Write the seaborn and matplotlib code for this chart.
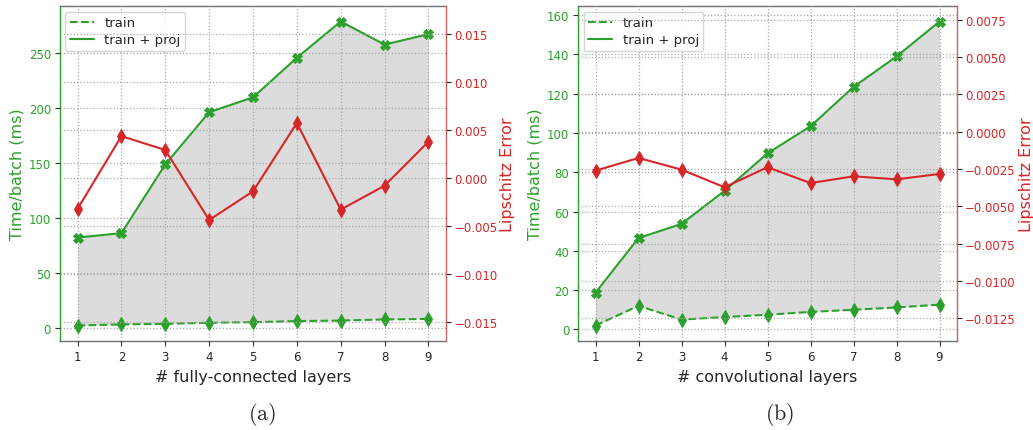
import numpy as np
import pandas as pd
import matplotlib
matplotlib.use("Agg")
import matplotlib.pyplot as plt
from matplotlib.lines import Line2D
import seaborn as sns

# ---------------- data ----------------
layers = [1, 2, 3, 4, 5, 6, 7, 8, 9]

fc_train = [2, 3, 3.5, 4.5, 5, 6, 6.5, 7.5, 8]
fc_train_proj = [82, 86, 148.5, 196, 209.5, 245.5, 278.5, 257.5, 267]
fc_lip_err = [-0.0032, 0.0044, 0.00295, -0.00435, -0.00136, 0.00577, -0.00327, -0.00077, 0.00382]

conv_train = [2, 12, 5, 6.3, 7.5, 8.9, 10, 11.2, 12.6]
conv_train_proj = [18.7, 46.5, 53.7, 70.5, 89.6, 103.4, 123.4, 138.9, 156.7]
conv_lip_err = [-0.00261, -0.00176, -0.00254, -0.00372, -0.00238, -0.00344, -0.00299, -0.00319, -0.00283]

xlabels = ["# fully-connected layers", "# convolutional layers"]
captions = ["(a)", "(b)"]
lip_ylims = [(-0.01694, 0.01794), (-0.0140, 0.0084)]
lip_ticks = [[-0.015, -0.010, -0.005, 0.000, 0.005, 0.010, 0.015],
             [-0.0125, -0.0100, -0.0075, -0.0050, -0.0025, 0.0000, 0.0025, 0.0050, 0.0075]]
lip_fmt = ["{:.3f}", "{:.4f}"]

# ---------------- style ----------------
sns.set_theme(style="white")
plt.rcParams["font.family"] = ["DejaVu Sans"]
plt.rcParams["mathtext.fontset"] = "cm"

GREEN = "#2ca02c"
RED = "#d62728"
GRID = dict(color="#a8a8a8", linestyle=":", linewidth=0.9)

fig = plt.figure(figsize=(10.33, 4.31), dpi=100)
axes_rects = [[60 / 1033, 1 - 341.7 / 431, 386 / 1033, 334.4 / 431],
              [578.3 / 1033, 1 - 341.7 / 431, 378.4 / 1033, 334.4 / 431]]
caption_x = [262 / 1033, 779.5 / 1033]

panels = [(fc_train, fc_train_proj, fc_lip_err), (conv_train, conv_train_proj, conv_lip_err)]

for i, (tr, trp, lip) in enumerate(panels):
    ax = fig.add_axes(axes_rects[i])
    df = pd.DataFrame({"layers": layers, "train": tr, "train_proj": trp, "lip": lip})

    ax.fill_between(df["layers"], df["train"], df["train_proj"], color="#dcdcdc", zorder=1, linewidth=0)
    sns.lineplot(data=df, x="layers", y="train", ax=ax, color=GREEN, linestyle="--",
                 linewidth=1.5, marker="d", markersize=7, markeredgecolor=GREEN, zorder=3)
    sns.lineplot(data=df, x="layers", y="train_proj", ax=ax, color=GREEN, linestyle="-",
                 linewidth=1.5, marker="X", markersize=7, markeredgecolor=GREEN, zorder=3)

    ax.set_xticks(layers)
    ax.set_xlim(0.6, 9.4)
    ax.grid(True, **GRID)
    ax.set_axisbelow(False)
    ax.set_xlabel(xlabels[i], fontsize=11.5, labelpad=4)
    ax.set_ylabel("Time/batch (ms)", fontsize=11.5, color=GREEN, labelpad=3)
    ax.tick_params(axis="y", labelcolor=GREEN, labelsize=8.5, length=3.5, width=0.8,
                   left=True, color="#333333", pad=3)
    ax.tick_params(axis="x", labelsize=8.5, length=3.5, width=0.8, bottom=True, color="#333333")
    for s in ["top", "bottom"]:
        ax.spines[s].set_color("#707070")
        ax.spines[s].set_linewidth(1.0)
    ax.spines["left"].set_color(GREEN)
    ax.spines["left"].set_linewidth(1.0)

    handles = [Line2D([0], [0], color=GREEN, linestyle="--", linewidth=1.5),
               Line2D([0], [0], color=GREEN, linestyle="-", linewidth=1.5)]
    leg = ax.legend(handles, ["train", "train + proj"], loc="upper left", fontsize=9.5,
                    frameon=True, framealpha=0.8, edgecolor="#cccccc", fancybox=True,
                    borderaxespad=0.4, handlelength=1.8, handletextpad=0.8,
                    borderpad=0.35, labelspacing=0.3)
    leg.set_zorder(10)

    ax2 = ax.twinx()
    sns.lineplot(data=df, x="layers", y="lip", ax=ax2, color=RED, linewidth=1.5,
                 marker="d", markersize=7, markeredgecolor=RED, zorder=3)
    ax2.set_ylim(*lip_ylims[i])
    ax2.set_yticks(lip_ticks[i])
    ax2.set_yticklabels([lip_fmt[i].format(v).replace("-", "\u2212") for v in lip_ticks[i]])
    ax2.grid(True, axis="y", **GRID)
    ax2.set_ylabel("Lipschitz Error", fontsize=11.5, color=RED, labelpad=2)
    ax2.tick_params(axis="y", labelcolor=RED, labelsize=8.5, length=3.5, width=0.8,
                    right=True, color="#222222", pad=2.5)
    ax2.set_xlabel("")
    ax2.spines["right"].set_color("#c86464")
    ax2.spines["right"].set_linewidth(1.0)
    ax2.spines["left"].set_visible(False)
    for s in ["top", "bottom"]:
        ax2.spines[s].set_visible(False)
    ax.spines["right"].set_visible(False)

    fig.text(caption_x[i], 1 - 415 / 431, r"$\mathrm{" + captions[i] + "}$",
             ha="center", va="center", fontsize=16)

fig.savefig("out.png", dpi=100)
